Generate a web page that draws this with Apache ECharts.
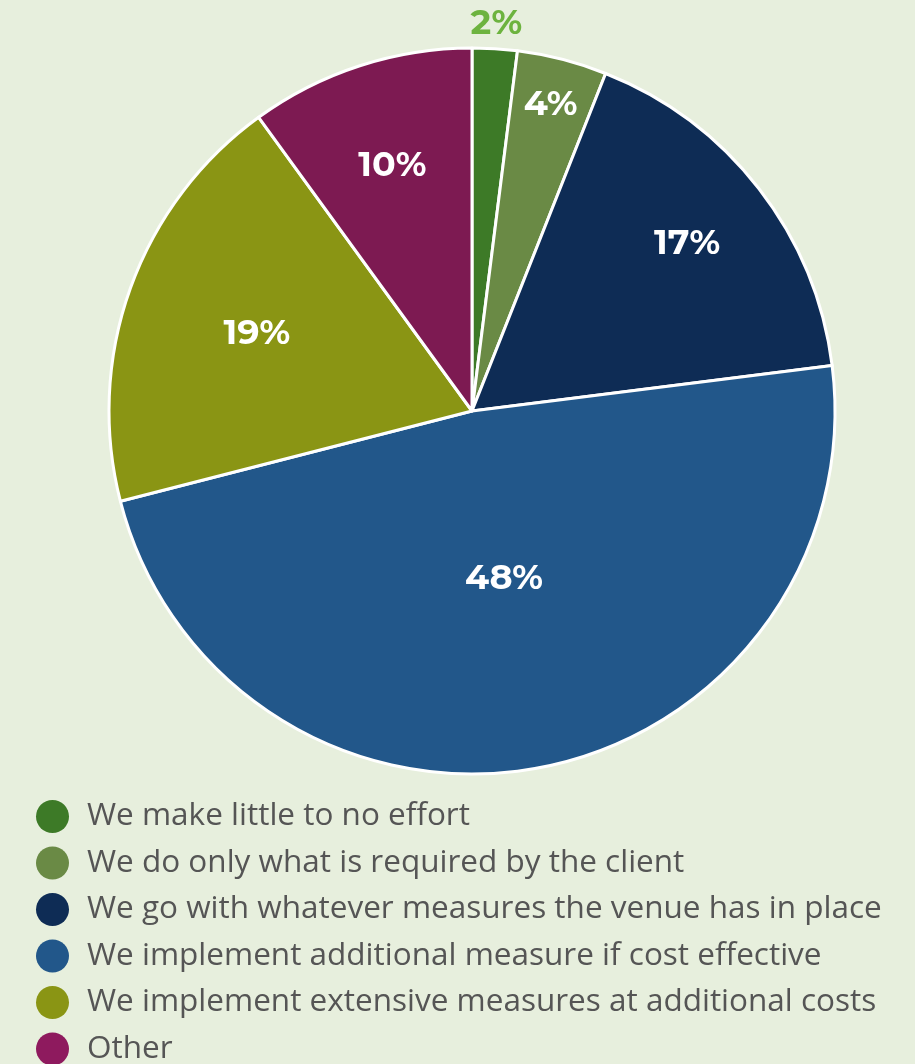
<!DOCTYPE html>
<html><head><meta charset="utf-8">
<script src="https://cdn.jsdelivr.net/npm/echarts@6/dist/echarts.min.js"></script>
<style>html,body{margin:0;padding:0;background:#e7efdd;}#c{width:915px;height:1064px;}</style>
</head><body><div id="c"></div>
<script>
const categories = [
  'We make little to no effort',
  'We do only what is required by the client',
  'We go with whatever measures the venue has in place',
  'We implement additional measure if cost effective',
  'We implement extensive measures at additional costs',
  'Other'
];
const values = [2, 4, 17, 48, 19, 10];
const colors = ['#3d7a27', '#6a8a45', '#0e2c55', '#22578a', '#8a9514', '#7d1a52'];
const legendColors = ['#3d7a27', '#6a8a45', '#0e2c55', '#22578a', '#8a9514', '#8e1a5e'];
const labelRadius = [1.07, 0.87, 0.75, 0.47, 0.63, 0.71];
const labelColors = ['#6db33f', '#ffffff', '#ffffff', '#ffffff', '#ffffff', '#ffffff'];

const CX = 472, CY = 411, R = 363;
const total = values.reduce((a, b) => a + b, 0);
const mids = [];
let acc = 0;
values.forEach(v => { mids.push((acc + v / 2) / total * 2 * Math.PI); acc += v; });

const chart = echarts.init(document.getElementById('c'));
chart.setOption({
  backgroundColor: '#e7efdd',
  legend: {
    orient: 'vertical', left: 36, top: 800, height: 300, padding: 0,
    itemWidth: 35, itemHeight: 33, itemGap: 13.5, icon: 'circle',
    itemStyle: { borderWidth: 0 },
    textStyle: { fontFamily: 'Open Sans', fontSize: 31.5, color: '#555555', padding: [0, 0, 0, 12] },
    data: categories.map((c, i) => ({ name: c, itemStyle: { color: legendColors[i], borderWidth: 0 } }))
  },
  series: [{
    type: 'pie', center: [CX, CY], radius: R, startAngle: 90, clockwise: true,
    animation: false,
    itemStyle: { borderColor: '#ffffff', borderWidth: 3 },
    label: {
      show: true, position: 'inside', formatter: '{c}%',
      fontFamily: 'Montserrat, Open Sans, sans-serif', fontWeight: 'bold', fontSize: 35
    },
    labelLine: { show: false },
    labelLayout: function (p) {
      const i = p.dataIndex, a = mids[i], f = labelRadius[i];
      return { x: CX + Math.sin(a) * R * f, y: CY - Math.cos(a) * R * f, align: 'center', verticalAlign: 'middle' };
    },
    data: categories.map((c, i) => ({
      name: c, value: values[i],
      itemStyle: { color: colors[i] },
      label: { color: labelColors[i] }
    }))
  }]
});
</script></body></html>
